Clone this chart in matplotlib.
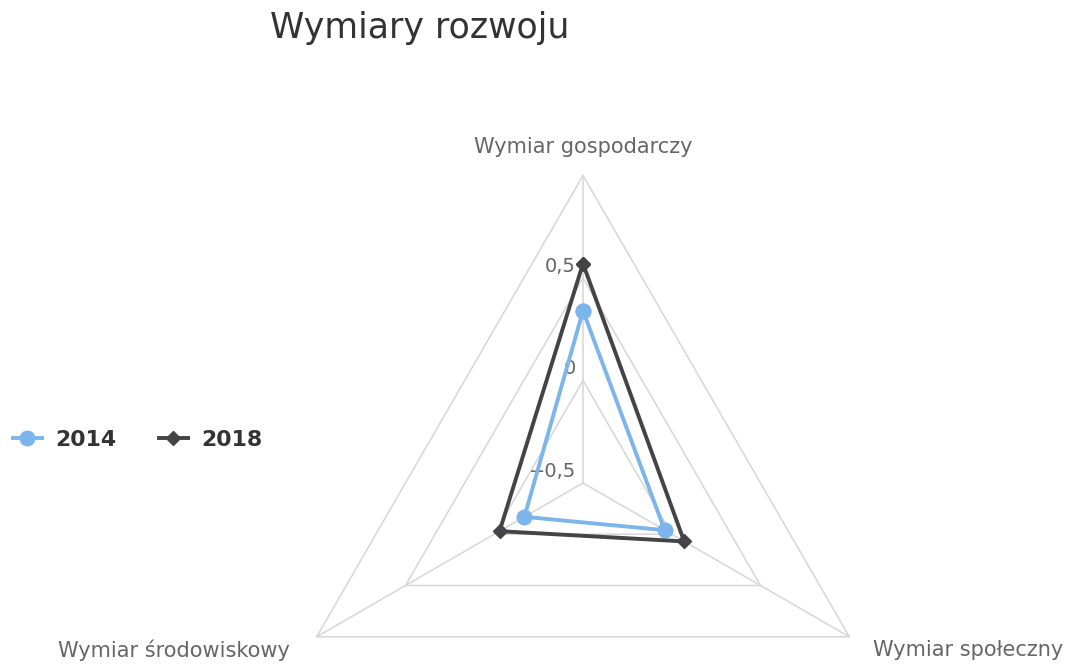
import numpy as np
import matplotlib
matplotlib.use('Agg')
from matplotlib import pyplot as plt
from matplotlib.lines import Line2D

# categories go clockwise from the top
categories = ['Wymiar gospodarczy', 'Wymiar społeczny', 'Wymiar środowiskowy']
values_2014 = [0.34, -0.04, -0.17]
values_2018 = [0.57, 0.07, -0.03]
series_names = ['2014', '2018']
r_ticks = [-0.5, 0.0, 0.5, 1.0]
r_tick_labels = ['\u22120,5', '0', '0,5', '']

W, H = 1070, 665
fig = plt.figure(figsize=(W / 100, H / 100), dpi=100)

# polar axes: center at (583, 483) px, radius ~307 px
cx, cy, R = 583, 483, 307.5
ax = fig.add_axes([(cx - R) / W, (H - cy - R) / H, 2 * R / W, 2 * R / H],
                  projection='polar')
ax.set_theta_zero_location('N')
ax.set_theta_direction(-1)
ax.set_ylim(r_ticks[0], r_ticks[-1])
ax.grid(False)
ax.spines['polar'].set_visible(False)
ax.set_xticks([])
ax.set_yticks([])
ax.patch.set_alpha(0)

angles = np.linspace(0, 2 * np.pi, len(categories), endpoint=False)
closed = np.append(angles, angles[0])

grid_col = '#d6d6d6'
# polygon grid
for t in r_ticks[1:]:
    ax.plot(closed, [t] * len(closed), color=grid_col, lw=1.1, zorder=1, clip_on=False)
# spokes
for a in angles:
    ax.plot([a, a], [r_ticks[0], r_ticks[-1]], color=grid_col, lw=1.1, zorder=1, clip_on=False)

c14 = '#7cb5ec'
c18 = '#434348'
ax.plot(closed, values_2014 + values_2014[:1], color=c14, lw=2.8, marker='o',
        markersize=10.5, zorder=3, clip_on=False)
ax.plot(closed, values_2018 + values_2018[:1], color=c18, lw=2.8, marker='D',
        markersize=7, zorder=4, clip_on=False)

# radial tick labels
for t, lab in zip(r_ticks, r_tick_labels):
    if lab:
        ax.annotate(lab, xy=(0, t), xytext=(-5, 8.6), textcoords='offset points',
                    ha='right', va='center', fontsize=14, color='#666666', zorder=2)

# category labels
offsets = [(0, 20.2, 'center'), (17.3, -9.4, 'left'), (-19.4, -9.4, 'right')]
for a, cat, (dx, dy, ha) in zip(angles, categories, offsets):
    ax.annotate(cat, xy=(a, r_ticks[-1]), xytext=(dx, dy), textcoords='offset points',
                ha=ha, va='center', fontsize=15, color='#666666', annotation_clip=False)

fig.text(420 / W, 1 - 38 / H, 'Wymiary rozwoju', ha='center', va='baseline',
         fontsize=25, color='#333333')

handles = [Line2D([], [], color=c14, lw=2.8, marker='o', markersize=10.5),
           Line2D([], [], color=c18, lw=2.8, marker='D', markersize=7)]
leg = fig.legend(handles, series_names, ncol=2, frameon=False, loc='center left',
                 bbox_to_anchor=(13 / W, 1 - 440 / H), borderpad=0, borderaxespad=0,
                 handlelength=1.3, handletextpad=0.62, columnspacing=1.95,
                 prop={'weight': 'bold', 'size': 15.8})
for txt in leg.get_texts():
    txt.set_color('#333333')

fig.savefig('out.png', dpi=100)
